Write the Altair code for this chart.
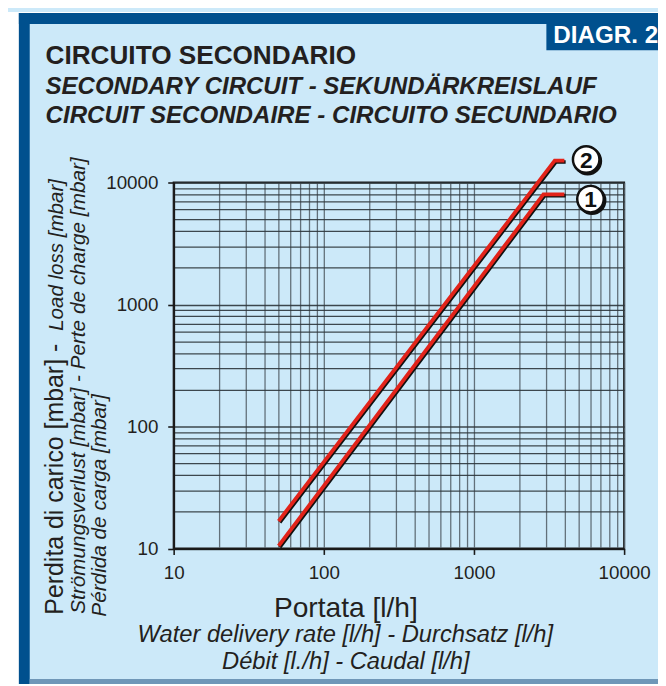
import altair as alt
import pandas as pd

# ---------------- data ----------------
CURVE1_FLOW = [50, 2900, 4000]
CURVE1_LOSS = [10.5, 8000, 8000]
CURVE2_FLOW = [50, 3450, 4000]
CURVE2_LOSS = [16.8, 15100, 15100]

BADGE_LABELS = ["1", "2"]
BADGE_FLOW = [5970, 5590]
BADGE_LOSS = [7310, 15410]

GRID = [10, 20, 30, 40, 50, 60, 70, 80, 90,
        100, 200, 300, 400, 500, 600, 700, 800, 900,
        1000, 2000, 3000, 4000, 5000, 6000, 7000, 8000, 9000,
        10000]
MAJOR = [10, 100, 1000, 10000]

TITLE_LINES = ["CIRCUITO SECONDARIO",
               "SECONDARY CIRCUIT - SEKUNDÄRKREISLAUF",
               "CIRCUIT SECONDAIRE - CIRCUITO SECUNDARIO"]
X_TITLE_LINES = ["Portata [l/h]",
                 "Water delivery rate [l/h] - Durchsatz [l/h]",
                 "Débit [l./h] - Caudal [l/h]"]
Y_TITLE_MAIN = "Perdita di carico [mbar] - "
Y_TITLE_MAIN_IT = "Load loss [mbar]"
Y_TITLE_LINES = ["Strömungsverlust [mbar] - Perte de charge [mbar]",
                 "Pérdida de carga [mbar]"]
BADGE_TEXT = "DIAGR. 2"

# ---------------- styling ----------------
FONT = "Liberation Sans"
INK = "#231f20"
DARK_BLUE = "#00508e"
LIGHT_BLUE = "#cce9f9"
RED = "#e2231a"

major_test = "indexof([10, 100, 1000, 10000], datum.value) >= 0"


def make_axis(grid_color, label_padding):
    return alt.Axis(
        values=GRID, grid=True, gridColor=grid_color, gridWidth=1.3, gridOpacity=0.9,
        domainColor="#1a1a1a", domainWidth=2,
        tickColor="#1a1a1a", tickWidth=1.6, tickSize=6,
        tickOpacity={"condition": {"test": major_test, "value": 1}, "value": 0},
        labelExpr=major_test + " ? format(datum.value, 'd') : ''",
        labelFont=FONT, labelFontSize=19, labelColor=INK, labelPadding=label_padding,
        labelOverlap=False, labelFlush=False, title=None,
    )


x_axis = make_axis("#56636c", 9)
y_axis = make_axis("#2c353b", 10)

x_scale = alt.Scale(type="log", domain=[10, 10000], nice=False)
y_scale = alt.Scale(type="log", domain=[10, 10000], nice=False)

curves = pd.DataFrame({
    "series": ["1"] * len(CURVE1_FLOW) + ["2"] * len(CURVE2_FLOW),
    "order": list(range(len(CURVE1_FLOW))) + list(range(len(CURVE2_FLOW))),
    "flow": CURVE1_FLOW + CURVE2_FLOW,
    "loss": CURVE1_LOSS + CURVE2_LOSS,
})
badges = pd.DataFrame({"label": BADGE_LABELS, "flow": BADGE_FLOW, "loss": BADGE_LOSS})

one = pd.DataFrame({"a": [0]})


def rect(x1, x2, y1, y2, color):
    return alt.Chart(one).mark_rect(color=color, opacity=1).encode(
        x=alt.value(x1), x2=alt.value(x2), y=alt.value(y1), y2=alt.value(y2))


def text(txt, x, y, size, style="normal", weight="normal", align="left",
         angle=0, color=INK, baseline="alphabetic"):
    return alt.Chart(pd.DataFrame({"t": [txt]})).mark_text(
        align=align, baseline=baseline, font=FONT, fontSize=size,
        fontStyle=style, fontWeight=weight, angle=angle, color=color,
    ).encode(text="t:N", x=alt.value(x), y=alt.value(y))


# drop shadows: small pixel offsets turned into log-space factors
shadow = alt.Chart(curves).transform_calculate(
    fs="datum.flow * pow(10, 1.3 / 152)",
    ls="datum.loss * pow(10, -1.3 / 123.5)",
).mark_line(color="#111111", strokeWidth=3.6, strokeCap="butt", strokeJoin="miter").encode(
    x=alt.X("fs:Q", scale=x_scale, axis=x_axis),
    y=alt.Y("ls:Q", scale=y_scale, axis=y_axis),
    detail="series:N", order="order:Q",
)

lines = alt.Chart(curves).mark_line(color=RED, strokeWidth=3.8, strokeCap="butt", strokeJoin="miter").encode(
    x=alt.X("flow:Q", scale=x_scale, axis=x_axis),
    y=alt.Y("loss:Q", scale=y_scale, axis=y_axis),
    detail="series:N", order="order:Q",
)

badge_shadow = alt.Chart(badges).transform_calculate(
    fs="datum.flow * pow(10, 1.5 / 152)",
    ls="datum.loss * pow(10, -1.5 / 123.5)",
).mark_point(shape="circle", filled=True, fill="#111111", stroke="#111111",
             strokeWidth=2.5, size=720, opacity=1).encode(
    x=alt.X("fs:Q", scale=x_scale, axis=x_axis),
    y=alt.Y("ls:Q", scale=y_scale, axis=y_axis),
)

badge_circles = alt.Chart(badges).mark_point(
    shape="circle", filled=True, fill="white", stroke="#111111",
    strokeWidth=2.5, size=720, opacity=1).encode(
    x=alt.X("flow:Q", scale=x_scale, axis=x_axis),
    y=alt.Y("loss:Q", scale=y_scale, axis=y_axis),
)

badge_text = alt.Chart(badges).mark_text(
    font=FONT, fontWeight="bold", fontSize=23, color="#111111",
    align="center", baseline="middle", dy=1).encode(
    x=alt.X("flow:Q", scale=x_scale, axis=x_axis),
    y=alt.Y("loss:Q", scale=y_scale, axis=y_axis),
    text="label:N",
)

# plot origin on the page is at (175.7, 180.5); positions below are relative to it
OX, OY = 175.7, 180.5


def px(x):
    return x - OX


def py(y):
    return y - OY


decor = [
    rect(px(8), px(19), py(8), py(700), "white"),
    rect(px(19), px(700), py(8), py(9), "white"),
    rect(px(19), px(700), py(9), py(20), DARK_BLUE),
    rect(px(19), px(30), py(9), py(700), DARK_BLUE),
    rect(px(30), px(700), py(683), py(700), "#6f97b8"),
    rect(px(553), px(700), py(20), py(46.7), DARK_BLUE),
    text(BADGE_TEXT, px(560), py(39), 24.5, weight="bold", color="white"),
    text(TITLE_LINES[0], px(46), py(60.7), 26.5, weight="bold"),
    text(TITLE_LINES[1], px(46), py(90.7), 24.3, style="italic", weight="bold"),
    text(TITLE_LINES[2], px(46), py(120.7), 24.4, style="italic", weight="bold"),
    text(X_TITLE_LINES[0], px(350), py(620.7), 28.5, align="center"),
    text(X_TITLE_LINES[1], px(349.5), py(645.7), 24, style="italic", align="center"),
    text(X_TITLE_LINES[2], px(350), py(672.7), 24, style="italic", align="center"),
    text(Y_TITLE_MAIN, px(63.5), py(618), 25.2, angle=270),
    text(Y_TITLE_MAIN_IT, px(63.5), py(177), 20.8, style="italic", angle=270, align="right"),
    text(Y_TITLE_LINES[0], px(85.5), py(617), 21, style="italic", angle=270),
    text(Y_TITLE_LINES[1], px(107), py(620), 21, style="italic", angle=270),
]

chart = alt.layer(
    shadow, lines, badge_shadow, badge_circles, badge_text, *decor
).properties(
    width=456, height=370.5,
    padding={"left": OX - 8, "top": OY - 8, "right": 658 - (OX - 8) - 456, "bottom": 676 - (OY - 8) - 370.5},
    autosize=alt.AutoSizeParams(type="none"),
    background=LIGHT_BLUE,
).configure_view(stroke="#1a1a1a", strokeWidth=2)

chart.save("out.html", embed_options={"renderer": "svg", "actions": False})
